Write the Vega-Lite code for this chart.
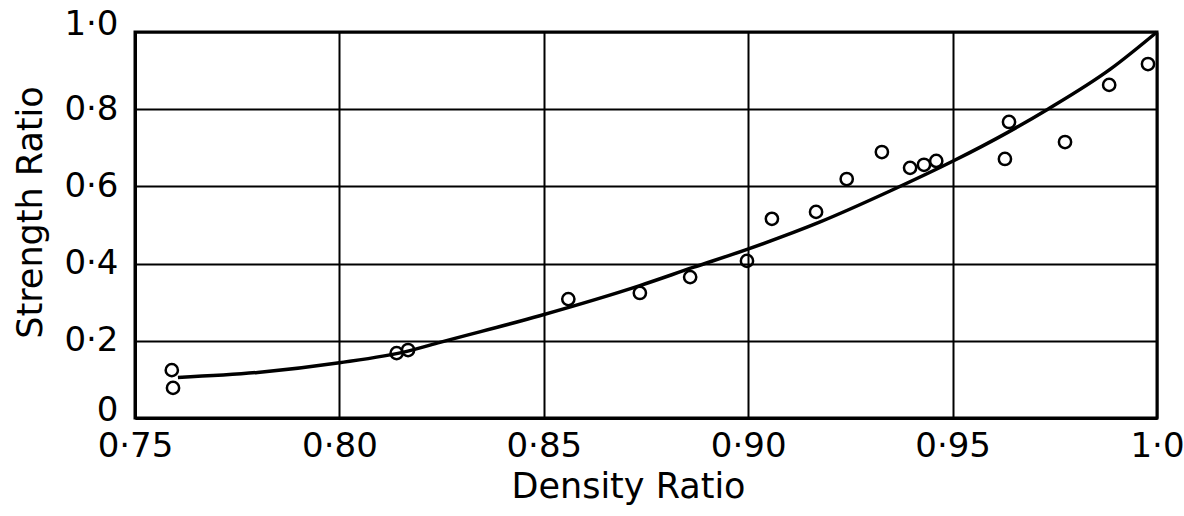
{
  "$schema": "https://vega.github.io/schema/vega-lite/v6.json",
  "width": 1022,
  "height": 386,
  "autosize": {"type": "none"},
  "padding": {"left": 135, "top": 32, "right": 27, "bottom": 98},
  "background": "white",
  "config": {
    "view": {"stroke": "black", "strokeWidth": 3},
    "axis": {
      "labelFont": "DejaVu Sans",
      "titleFont": "DejaVu Sans",
      "labelFontSize": 34,
      "titleFontSize": 35,
      "labelColor": "black",
      "titleColor": "black",
      "titleFontWeight": "normal",
      "gridColor": "black",
      "gridWidth": 2,
      "gridOpacity": 1,
      "domainColor": "black",
      "domainWidth": 3,
      "ticks": false,
      "labelPadding": 11
    }
  },
  "datasets": {
    "points": [
      {"density": 0.759, "strength": 0.124},
      {"density": 0.7593, "strength": 0.078},
      {"density": 0.814, "strength": 0.168},
      {"density": 0.8168, "strength": 0.176},
      {"density": 0.856, "strength": 0.308},
      {"density": 0.8735, "strength": 0.324},
      {"density": 0.8858, "strength": 0.365},
      {"density": 0.8997, "strength": 0.407},
      {"density": 0.9058, "strength": 0.516},
      {"density": 0.9166, "strength": 0.534},
      {"density": 0.9241, "strength": 0.619},
      {"density": 0.9327, "strength": 0.689},
      {"density": 0.9396, "strength": 0.648},
      {"density": 0.943, "strength": 0.656},
      {"density": 0.946, "strength": 0.666},
      {"density": 0.9628, "strength": 0.671},
      {"density": 0.9638, "strength": 0.767},
      {"density": 0.9775, "strength": 0.715},
      {"density": 0.9883, "strength": 0.863},
      {"density": 0.9978, "strength": 0.917}
    ],
    "curve": [
      {"density": 0.7605, "strength": 0.105},
      {"density": 0.78, "strength": 0.118},
      {"density": 0.80, "strength": 0.143},
      {"density": 0.817, "strength": 0.174},
      {"density": 0.8246, "strength": 0.196},
      {"density": 0.849, "strength": 0.265},
      {"density": 0.8735, "strength": 0.343},
      {"density": 0.8865, "strength": 0.39},
      {"density": 0.8992, "strength": 0.435},
      {"density": 0.9176, "strength": 0.508},
      {"density": 0.9347, "strength": 0.588},
      {"density": 0.95, "strength": 0.665},
      {"density": 0.9635, "strength": 0.74},
      {"density": 0.9733, "strength": 0.80},
      {"density": 0.9885, "strength": 0.903},
      {"density": 1.0, "strength": 1.0}
    ]
  },
  "encoding": {
    "x": {
      "field": "density",
      "type": "quantitative",
      "scale": {"domain": [0.75, 1.0], "nice": false, "zero": false},
      "axis": {
        "title": "Density Ratio",
        "values": [0.75, 0.80, 0.85, 0.90, 0.95, 1.0],
        "labelExpr": "datum.value == 1 ? '1·0' : replace(format(datum.value, '.2f'), '.', '·')",
        "titlePadding": 6,
        "titleX": 493,
        "labelFlush": false
      }
    },
    "y": {
      "field": "strength",
      "type": "quantitative",
      "scale": {"domain": [0, 1.0], "nice": false},
      "axis": {
        "title": "Strength Ratio",
        "values": [0, 0.2, 0.4, 0.6, 0.8, 1.0],
        "labelExpr": "datum.value == 0 ? '0' : replace(format(datum.value, '.1f'), '.', '·')",
        "labelOffset": {"condition": {"test": "datum.value == 0 || datum.value == 1", "value": -8}, "value": 0},
        "titlePadding": 15,
        "titleY": 180,
        "labelFlush": false,
        "labelPadding": 17
      }
    }
  },
  "layer": [
    {
      "data": {"name": "curve"},
      "mark": {"type": "line", "color": "black", "strokeWidth": 3.5, "interpolate": "monotone"}
    },
    {
      "data": {"name": "points"},
      "mark": {"type": "point", "shape": "circle", "filled": false, "color": "black", "strokeWidth": 2.5, "size": 150, "opacity": 1}
    }
  ]
}
